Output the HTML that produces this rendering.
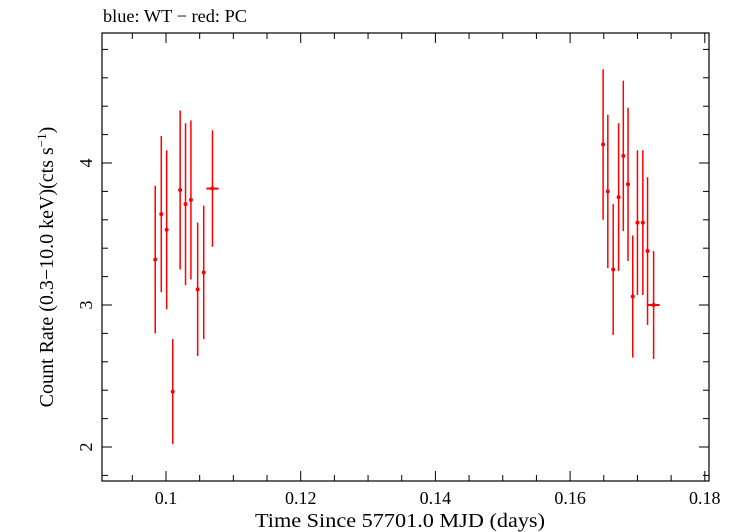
<!DOCTYPE html>
<html><head><meta charset="utf-8"><style>
html,body{margin:0;padding:0;background:#fff;}
svg{display:block;font-family:"Liberation Serif",serif;}
</style></head><body>
<svg id="chart" width="737" height="532" viewBox="0 0 737 532" xmlns="http://www.w3.org/2000/svg">
<text x="103" y="22" font-size="18" textLength="144" lengthAdjust="spacingAndGlyphs">blue: WT − red: PC</text>
<rect x="102" y="33" width="607" height="448" fill="none" stroke="#000" stroke-width="1.2"/>
<g id="axes"></g>
<g id="marks"></g>
<text x="400" y="527" font-size="20" text-anchor="middle" textLength="290" lengthAdjust="spacingAndGlyphs">Time Since 57701.0 MJD (days)</text>
<text transform="translate(53,267) rotate(-90)" font-size="20" text-anchor="middle">Count Rate (0.3−10.0 keV)(cts s<tspan dy="-7" font-size="13">−1</tspan><tspan dy="7">)</tspan></text>
</svg>
<script>
const times=[0.0984,0.0993,0.1001,0.1010,0.1021,0.1029,0.1037,0.1047,0.1056,0.1069,0.1649,0.1656,0.1664,0.1672,0.1679,0.1686,0.1693,0.1700,0.1708,0.1715,0.1724];
const rates=[3.32,3.64,3.53,2.39,3.81,3.71,3.74,3.11,3.23,3.82,4.13,3.80,3.25,3.76,4.05,3.85,3.06,3.58,3.58,3.38,3.00];
const errs=[0.52,0.55,0.56,0.37,0.56,0.57,0.56,0.47,0.47,0.41,0.53,0.54,0.46,0.52,0.53,0.54,0.43,0.51,0.51,0.52,0.38];
const xerrs=[0.0002,0.0002,0.0002,0.0002,0.0002,0.0002,0.0002,0.0002,0.0002,0.0009,0.0002,0.0002,0.0002,0.0002,0.0002,0.0002,0.0002,0.0002,0.0002,0.0002,0.0009];
const xTicks=[0.1,0.12,0.14,0.16,0.18];
const xTickLabels=["0.1","0.12","0.14","0.16","0.18"];
const yTicks=[2,3,4];
const yTickLabels=["2","3","4"];
const NS="http://www.w3.org/2000/svg";
const X=t=>166+(t-0.1)*6735;
const Y=r=>447-(r-2)*142;
function mk(tag,attrs,parent){const e=document.createElementNS(NS,tag);for(const k in attrs)e.setAttribute(k,attrs[k]);parent.appendChild(e);return e;}
const ax=document.getElementById('axes');
for(let v=0.09;v<=0.1801;v+=0.005){const x=X(v);if(x<102||x>709)continue;const major=xTicks.some(t=>Math.abs(t-v)<1e-6);const L=major?10:6;
const a=mk('line',{x1:x,x2:x,y1:481,y2:481-L,stroke:'#000','stroke-width':1},ax);


const b=mk('line',{x1:x,x2:x,y1:33,y2:33+L,stroke:'#000','stroke-width':1},ax);

}
xTicks.forEach((t,i)=>{const e=mk('text',{x:X(t),y:504,'font-size':18,'text-anchor':'middle'},ax);e.textContent=xTickLabels[i];

});
for(let v=1.8;v<=4.81;v+=0.2){const y=Y(v);if(y<33||y>481)continue;const major=yTicks.some(t=>Math.abs(t-v)<1e-6);const L=major?10:6;
const a=mk('line',{x1:102,x2:102+L,y1:y,y2:y,stroke:'#000','stroke-width':1},ax);


const b=mk('line',{x1:709,x2:709-L,y1:y,y2:y,stroke:'#000','stroke-width':1},ax);

}
yTicks.forEach((t,i)=>{const e=mk('text',{transform:`translate(92,${Y(t)}) rotate(-90)`,'font-size':18,'text-anchor':'middle'},ax);e.textContent=yTickLabels[i];

});
const mg=document.getElementById('marks');
times.forEach((t,i)=>{const g=mk('g',{},mg);


const x=X(t),y=Y(rates[i]);
mk('line',{x1:x,x2:x,y1:Y(rates[i]+errs[i]),y2:Y(rates[i]-errs[i]),stroke:'#f00','stroke-width':1.5},g);
mk('line',{x1:X(t-xerrs[i]),x2:X(t+xerrs[i]),y1:y,y2:y,stroke:'#f00','stroke-width':2},g);
mk('circle',{cx:x,cy:y,r:2,fill:'#f00'},g);});
</script>
</body></html>
